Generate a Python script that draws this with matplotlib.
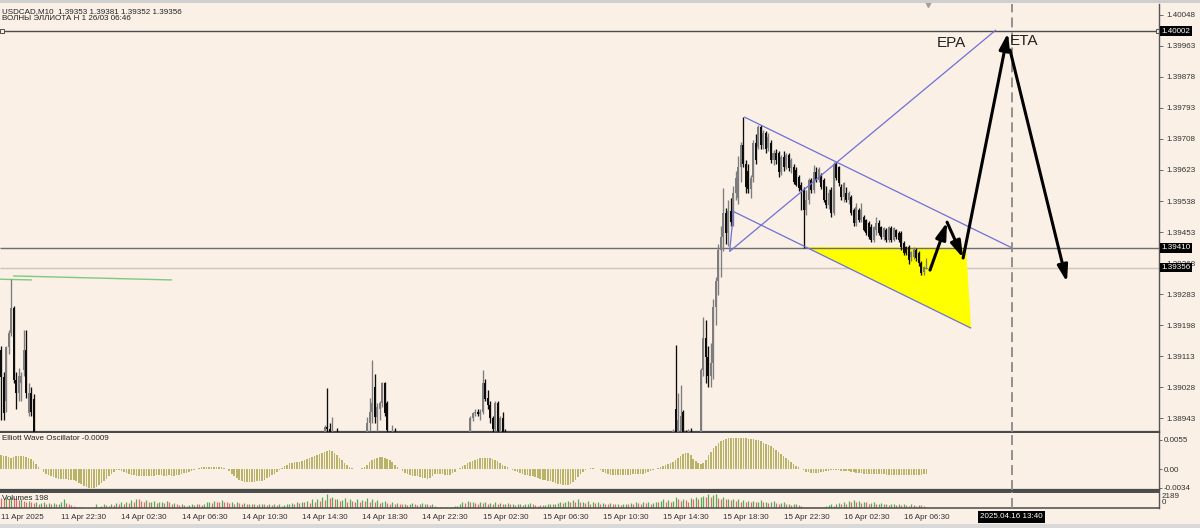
import numpy as np
import matplotlib
matplotlib.use('Agg')
import matplotlib.pyplot as plt
from matplotlib.patches import Rectangle, Polygon
from matplotlib.transforms import blended_transform_factory

plt.rcParams['font.family'] = ['Liberation Sans', 'DejaVu Sans']
plt.rcParams['lines.solid_capstyle'] = 'butt'

BG = '#faf0e6'
TXT = '#303030'
FS = 5.8

# ---------------- data ----------------
symbol_line = 'USDCAD,M10  1.39353 1.39381 1.39352 1.39356'
template_line = 'ВОЛНЫ ЭЛЛИОТА H 1 26/03 06:46'

time_labels = ['11 Apr 2025', '11 Apr 22:30', '14 Apr 02:30', '14 Apr 06:30', '14 Apr 10:30',
               '14 Apr 14:30', '14 Apr 18:30', '14 Apr 22:30', '15 Apr 02:30', '15 Apr 06:30',
               '15 Apr 10:30', '15 Apr 14:30', '15 Apr 18:30', '15 Apr 22:30', '16 Apr 02:30',
               '16 Apr 06:30']
time_label_bars = [24 * k for k in range(len(time_labels))]

price_ticks = [1.40048, 1.39963, 1.39878, 1.39793, 1.39708, 1.39623, 1.39538,
               1.39453, 1.39368, 1.39283, 1.39198, 1.39113, 1.39028, 1.38943]
price_lim = (1.38906, 1.40077)
bar_lim = (-0.4, 461.7)

level_high = 1.40002
level_mid = 1.39410
bid = 1.39356
vline_bar = 403
vline_label = '2025.04.16 13:40'

# candles that fall inside the price window: (open, high, low, close), by segment
left_start = 0
left_ohlc = [
    (1.39130, 1.39140, 1.38938, 1.39056), (1.39056, 1.39070, 1.38940, 1.38957),
    (1.38990, 1.39140, 1.38960, 1.39138), (1.39138, 1.39185, 1.39120, 1.39177),
    (1.39177, 1.39324, 1.39170, 1.39245), (1.39245, 1.39250, 1.39040, 1.39048),
    (1.39048, 1.39070, 1.38970, 1.39012), (1.39012, 1.39080, 1.38990, 1.39060),
    (1.39040, 1.39070, 1.38990, 1.39060), (1.39075, 1.39185, 1.39060, 1.39130),
    (1.39130, 1.39185, 1.39000, 1.39012), (1.38957, 1.39040, 1.38950, 1.39012),
    (1.39012, 1.39030, 1.38950, 1.38960), (1.38995, 1.39010, 1.38880, 1.38890),
]
spike1_start = 129
spike1_ohlc = [
    (1.38900, 1.38925, 1.38890, 1.38920), (1.38920, 1.39026, 1.38890, 1.38915),
    (1.38915, 1.38930, 1.38890, 1.38900), (1.38900, 1.38946, 1.38890, 1.38905),
    (1.38900, 1.38905, 1.38880, 1.38890), (1.38895, 1.38916, 1.38885, 1.38890),
]
spike2_start = 146
spike2_ohlc = [
    (1.38905, 1.38946, 1.38890, 1.38930), (1.38930, 1.38999, 1.38910, 1.38960),
    (1.38960, 1.39103, 1.38930, 1.38985), (1.39030, 1.39066, 1.38930, 1.38948),
    (1.38948, 1.38985, 1.38910, 1.38975), (1.38970, 1.38990, 1.38940, 1.38984),
    (1.38984, 1.39043, 1.38975, 1.39039), (1.39039, 1.39043, 1.38950, 1.38957),
    (1.38984, 1.38990, 1.38890, 1.38911), (1.38905, 1.38908, 1.38880, 1.38890),
    (1.38895, 1.38925, 1.38885, 1.38900), (1.38895, 1.38918, 1.38885, 1.38890),
]
spike3_start = 187
spike3_ohlc = [
    (1.38905, 1.38950, 1.38895, 1.38945), (1.38945, 1.38962, 1.38935, 1.38958),
    (1.38958, 1.38970, 1.38950, 1.38962), (1.38962, 1.38968, 1.38950, 1.38955),
    (1.38955, 1.38968, 1.38940, 1.38962), (1.38962, 1.39076, 1.38955, 1.39040),
    (1.39040, 1.39050, 1.38990, 1.38995), (1.39000, 1.39020, 1.38970, 1.38980),
    (1.38980, 1.38990, 1.38930, 1.38945), (1.38945, 1.38950, 1.38900, 1.38915),
    (1.38915, 1.38990, 1.38910, 1.38985), (1.38985, 1.38990, 1.38905, 1.38910),
    (1.38910, 1.38950, 1.38900, 1.38945), (1.38945, 1.38960, 1.38900, 1.38905),
    (1.38900, 1.38915, 1.38885, 1.38895),
]
rally_start = 268
rally_ohlc = [
    (1.38900, 1.38915, 1.38890, 1.38910), (1.38968, 1.39144, 1.38890, 1.38905),
    (1.38905, 1.39012, 1.38890, 1.38940), (1.38910, 1.39034, 1.38895, 1.38950),
    (1.38960, 1.38965, 1.38890, 1.38900), (1.38900, 1.38912, 1.38885, 1.38895),
    (1.38895, 1.38915, 1.38885, 1.38905), (1.38900, 1.38918, 1.38885, 1.38895),
    (1.38895, 1.38900, 1.38880, 1.38890), (1.38890, 1.38900, 1.38875, 1.38885),
    (1.38885, 1.38905, 1.38875, 1.38900),
    # 279
    (1.38900, 1.39080, 1.38880, 1.39075), (1.39075, 1.39220, 1.39060, 1.39163),
    (1.39163, 1.39212, 1.39040, 1.39110), (1.39110, 1.39140, 1.39030, 1.39060),
    (1.39060, 1.39150, 1.39030, 1.39095), (1.39095, 1.39270, 1.39050, 1.39248),
    (1.39248, 1.39330, 1.39200, 1.39320), (1.39320, 1.39420, 1.39280, 1.39404),
    (1.39404, 1.39470, 1.39330, 1.39440), (1.39440, 1.39573, 1.39400, 1.39505),
    (1.39505, 1.39520, 1.39420, 1.39450), (1.39450, 1.39540, 1.39415, 1.39510),
    (1.39510, 1.39545, 1.39470, 1.39480), (1.39480, 1.39580, 1.39470, 1.39560),
    (1.39560, 1.39620, 1.39540, 1.39600), (1.39545, 1.39660, 1.39530, 1.39630),
    (1.39630, 1.39700, 1.39590, 1.39690), (1.39690, 1.39768, 1.39630, 1.39640),
    (1.39640, 1.39650, 1.39560, 1.39575), (1.39620, 1.39640, 1.39560, 1.39570),
    # 299
    (1.39570, 1.39610, 1.39545, 1.39600), (1.39603, 1.39705, 1.39590, 1.39697),
    (1.39697, 1.39720, 1.39640, 1.39650), (1.39686, 1.39746, 1.39680, 1.39740),
    (1.39740, 1.39745, 1.39680, 1.39690), (1.39690, 1.39732, 1.39680, 1.39724),
    (1.39724, 1.39730, 1.39670, 1.39680), (1.39683, 1.39724, 1.39675, 1.39713),
    (1.39697, 1.39705, 1.39642, 1.39650), (1.39650, 1.39678, 1.39637, 1.39669),
    (1.39669, 1.39680, 1.39640, 1.39650), (1.39670, 1.39675, 1.39604, 1.39618),
    (1.39618, 1.39665, 1.39610, 1.39658), (1.39658, 1.39675, 1.39620, 1.39630),
    (1.39630, 1.39668, 1.39625, 1.39664), (1.39664, 1.39670, 1.39620, 1.39628),
    (1.39628, 1.39655, 1.39615, 1.39650), (1.39631, 1.39640, 1.39585, 1.39590),
    (1.39623, 1.39630, 1.39578, 1.39582), (1.39604, 1.39610, 1.39565, 1.39573),
    # 319
    (1.39582, 1.39590, 1.39513, 1.39568), (1.39568, 1.39575, 1.39410, 1.39513),
    (1.39513, 1.39568, 1.39500, 1.39541), (1.39541, 1.39600, 1.39530, 1.39595),
    (1.39595, 1.39600, 1.39560, 1.39568), (1.39568, 1.39637, 1.39560, 1.39617),
    (1.39617, 1.39630, 1.39590, 1.39595), (1.39595, 1.39631, 1.39590, 1.39625),
    (1.39609, 1.39615, 1.39570, 1.39576), (1.39595, 1.39600, 1.39535, 1.39541),
    (1.39541, 1.39580, 1.39520, 1.39527), (1.39527, 1.39570, 1.39515, 1.39560),
    (1.39568, 1.39575, 1.39494, 1.39505), (1.39505, 1.39645, 1.39500, 1.39640),
    (1.39640, 1.39645, 1.39595, 1.39600), (1.39631, 1.39635, 1.39580, 1.39587),
    (1.39576, 1.39585, 1.39540, 1.39549), (1.39549, 1.39590, 1.39535, 1.39587),
    (1.39560, 1.39576, 1.39535, 1.39541), (1.39541, 1.39565, 1.39530, 1.39560),
    # 339
    (1.39549, 1.39555, 1.39500, 1.39505), (1.39513, 1.39520, 1.39470, 1.39478),
    (1.39478, 1.39532, 1.39470, 1.39521), (1.39513, 1.39520, 1.39480, 1.39486),
    (1.39486, 1.39532, 1.39480, 1.39513), (1.39494, 1.39500, 1.39455, 1.39459),
    (1.39486, 1.39490, 1.39445, 1.39450), (1.39478, 1.39482, 1.39435, 1.39439),
    (1.39467, 1.39475, 1.39425, 1.39431), (1.39431, 1.39470, 1.39425, 1.39467),
    (1.39459, 1.39494, 1.39445, 1.39478), (1.39478, 1.39485, 1.39445, 1.39450),
    (1.39467, 1.39470, 1.39435, 1.39439), (1.39439, 1.39468, 1.39430, 1.39464),
    (1.39459, 1.39465, 1.39425, 1.39431), (1.39431, 1.39470, 1.39425, 1.39467),
    (1.39464, 1.39470, 1.39425, 1.39431), (1.39431, 1.39468, 1.39428, 1.39464),
    (1.39459, 1.39462, 1.39435, 1.39439), (1.39450, 1.39455, 1.39425, 1.39431),
    # 359
    (1.39450, 1.39455, 1.39405, 1.39412), (1.39423, 1.39428, 1.39390, 1.39396),
    (1.39412, 1.39415, 1.39390, 1.39396), (1.39412, 1.39418, 1.39365, 1.39376),
    (1.39385, 1.39400, 1.39375, 1.39398), (1.39385, 1.39412, 1.39380, 1.39409),
    (1.39404, 1.39410, 1.39375, 1.39382), (1.39396, 1.39400, 1.39360, 1.39368),
    (1.39368, 1.39375, 1.39335, 1.39341), (1.39343, 1.39360, 1.39335, 1.39357),
    (1.39353, 1.39381, 1.39352, 1.39356),
]

# Elliott Wave Oscillator, one value per bar, in units of 0.0001
ewo = [
    26, 25, 24, 23, 22, 23, 24, 25, 25, 24,
    23, 21, 19, 15, 10, 5, 0, -5, -9, -11,
    -13, -15, -17, -18, -18, -18, -18, -19, -19, -20,
    -22, -25, -28, -31, -33, -35, -35, -34, -33, -30,
    -26, -22, -18, -13, -9, -5, -2, -2, -3, -5,
    -7, -9, -10, -11, -12, -12, -12, -13, -13, -12,
    -12, -12, -11, -11, -11, -12, -12, -11, -12, -12,
    -11, -10, -9, -7, -6, -4, -3, -1, 1, 3,
    4, 5, 5, 5, 5, 4, 4, 5, 4, 3,
    1, -3, -8, -13, -17, -20, -22, -23, -23, -23,
    -23, -23, -22, -22, -21, -19, -17, -14, -11, -8,
    -4, -1, 2, 6, 9, 11, 12, 13, 13, 14,
    16, 18, 20, 22, 23, 25, 27, 28, 30, 32,
    35, 36, 34, 31, 27, 22, 17, 12, 8, 4,
    2, 1, 1, 1, 2, 5, 9, 13, 17, 20,
    22, 23, 23, 22, 20, 17, 13, 9, 5, 1,
    -3, -6, -9, -11, -12, -12, -13, -14, -16, -17,
    -18, -16, -12, -9, -8, -8, -9, -10, -10, -10,
    -7, -4, 0, 3, 6, 9, 12, 14, 16, 18,
    20, 21, 22, 22, 22, 21, 20, 18, 15, 12,
    9, 6, 4, 1, -1, -3, -5, -7, -9, -10,
    -11, -12, -13, -15, -16, -18, -19, -20, -21, -22,
    -24, -25, -27, -28, -29, -30, -30, -28, -24, -19,
    -14, -9, -5, -1, 1, 2, 2, 1, 0, -2,
    -5, -7, -9, -10, -10, -10, -11, -11, -10, -10,
    -10, -10, -9, -9, -9, -8, -8, -7, -5, -3,
    -2, 0, 2, 4, 6, 8, 10, 12, 14, 17,
    21, 25, 29, 31, 30, 26, 20, 15, 12, 10,
    12, 18, 26, 33, 39, 44, 49, 53, 55, 57,
    58, 59, 59, 59, 58, 59, 59, 58, 57, 56,
    56, 55, 54, 52, 50, 48, 46, 43, 40, 37,
    33, 29, 25, 21, 17, 13, 10, 7, 4, 1,
    -2, -4, -5, -6, -7, -7, -6, -5, -4, -3,
    -3, -2, -2, -2, -2, -3, -3, -3, -3, -4,
    -5, -6, -7, -7, -8, -8, -8, -9, -9, -9,
    -9, -9, -9, -10, -10, -10, -10, -10, -10, -10,
    -10, -10, -10, -10, -10, -10, -10, -10, -9, -9,
]
ewo_ticks = [0.0055, 0.0, -0.0034]
ewo_tick_labels = ['0.0055', '0.00', '-0.0034']
ewo_lim = (-0.00385, 0.00678)

# tick volume, one value per bar
volumes = [
    1400, 1300, 1500, 1200, 1600, 1400, 1300, 1100, 1200, 1000,
    900, 1000, 800, 700, 900, 600, 700, 800, 600, 700,
    600, 700, 500, 600, 800, 1200, 700, 500, 400, 300,
    200, 120, 80, 60, 50, 50, 40, 60, 500, 200,
    300, 600, 400, 300, 500, 400, 700, 500, 800, 600,
    900, 700, 1100, 800, 1300, 1200, 1000, 900, 1100, 800,
    900, 1000, 700, 800, 900, 700, 1000, 800, 600, 700,
    500, 400, 500, 400, 300, 400, 500, 400, 600, 500,
    400, 600, 800, 900, 700, 1000, 900, 800, 1100, 900,
    800, 700, 900, 600, 800, 700, 600, 700, 500, 600,
    500, 600, 400, 500, 600, 500, 400, 500, 400, 500,
    400, 500, 300, 400, 500, 600, 700, 600, 800, 700,
    900, 800, 1000, 700, 1200, 900, 1300, 1000, 1500, 1100,
    1900, 1400, 1600, 1200, 1300, 1000, 1100, 1400, 900, 1200,
    1000, 800, 1300, 900, 1100, 1000, 1400, 900, 1200, 800,
    1100, 700, 900, 1000, 700, 600, 800, 500, 700, 600,
    500, 600, 400, 500, 700, 600, 400, 500, 700, 500,
    600, 400, 500, 300, 200, 100, 100, 120, 150, 150,
    200, 250, 300, 600, 900, 700, 1000, 800, 900, 700,
    600, 800, 700, 900, 600, 700, 500, 800, 600, 700,
    500, 600, 700, 500, 600, 400, 500, 600, 400, 500,
    600, 700, 500, 400, 300, 400, 350, 400, 500, 600,
    500, 600, 700, 800, 700, 900, 1000, 800, 1100, 900,
    1200, 800, 900, 700, 1000, 600, 800, 700, 900, 600,
    700, 600, 500, 700, 600, 500, 600, 400, 500, 600,
    500, 700, 600, 800, 700, 600, 900, 700, 800, 600,
    700, 900, 800, 1000, 1300, 900, 1100, 800, 1000, 1600,
    1200, 1000, 1300, 1100, 900, 1400, 1200, 1500, 1300, 1600,
    1700, 1500, 1900, 1600, 1800, 2000, 1400, 1300, 1500, 1200,
    1300, 1100, 1200, 1000, 1300, 900, 1100, 800, 1000, 900,
    1000, 800, 900, 1100, 800, 900, 700, 800, 1000, 700,
    600, 700, 800, 500, 600, 400, 500, 600, 400, 300,
    200, 150, 100, 150, 100, 200, 150, 100, 200, 300,
    400, 500, 300, 600, 700, 500, 800, 600, 1000, 900,
    1100, 800, 1000, 700, 900, 800, 600, 700, 800, 500,
    600, 700, 500, 600, 400, 500, 600, 400, 500, 400,
    500, 400, 300, 500, 400, 300, 400, 350, 300, 198,
]
volume_max = 2189

# hand-drawn objects (bar index, price)
green_lines = [((-0.4, 1.39324), (12.3, 1.39322)), ((4.8, 1.39333), (68.2, 1.39322))]
channel_upper = ((296.3, 1.39768), (403.0, 1.39410))
channel_lower = ((292.1, 1.39509), (386.8, 1.39190))
channel_link = ((292.1, 1.39509), (290.5, 1.39400))
rising_line = ((290.5, 1.39400), (396.7, 1.40006))
yellow_zone = [(321.0, 1.39412), (384.8, 1.39410), (386.8, 1.39190)]
arrows = [((370.4, 1.39349), (377.2, 1.39480)),
          ((377.2, 1.39480), (383.6, 1.39382)),
          ((383.6, 1.39382), (401.5, 1.39998)),
          ((402.3, 1.39951), (425.0, 1.39316))]
labels = [('EPA', 373.2, 1.39971), ('ETA', 402.3, 1.39975)]


def px(x, y):
    return x / 1200, 1 - y / 528


def draw_candles(ax, start, rows):
    rows = np.array(rows)
    x = start + np.arange(len(rows))
    o, h, l, c = rows.T
    up = c >= o
    cols = np.where(up, '#7d7d7d', '#0c0c0c')
    ax.vlines(x, l, h, colors=cols, lw=0.95, zorder=3)
    body = np.maximum(np.abs(c - o), 0.000015)
    ax.bar(x, body, bottom=np.minimum(o, c), width=0.8, color=cols, zorder=3)


fig = plt.figure(figsize=(12, 5.28), dpi=100, facecolor=BG)
W = 1159 / 1200
ax = fig.add_axes([0, 1 - 432 / 528, W, 428 / 528], facecolor=BG)
ax_osc = fig.add_axes([0, 1 - 490 / 528, W, 57 / 528], facecolor=BG)
ax_vol = fig.add_axes([0, 1 - 508 / 528, W, 16 / 528], facecolor=BG)

for a in (ax, ax_osc, ax_vol):
    a.set_xlim(*bar_lim)
    a.spines['left'].set_visible(False)
    a.spines['top'].set_visible(False)
    a.spines['right'].set_color('#555555')
    a.spines['right'].set_linewidth(1.0)
    a.spines['bottom'].set_color('#4a4a4a')
    a.spines['bottom'].set_linewidth(1.6)
    a.set_xticks([])
    a.axvline(vline_bar, color='#8a8a8a', lw=1.3, dashes=(5.5, 2.8), zorder=6)
ax_vol.spines['top'].set_visible(True)
ax_vol.spines['top'].set_color('#4a4a4a')
ax_vol.spines['top'].set_linewidth(1.4)
ax_vol.spines['bottom'].set_linewidth(1.1)

# ---------------- main price window ----------------
ax.set_ylim(*price_lim)
ax.yaxis.tick_right()
ax.set_yticks(price_ticks)
ax.set_yticklabels([f'{p:.5f}' for p in price_ticks])
ax.tick_params(axis='y', length=3, width=0.6, color='#555555', pad=2,
               labelsize=FS, labelcolor=TXT)

ax.axhline(level_high, color='#4d4d4d', lw=1.0, zorder=2)
ax.plot([bar_lim[0] + 0.6, bar_lim[1] - 0.5], [level_high, level_high], 's', ms=2.5,
        mfc=BG, mec='#4d4d4d', mew=0.7, zorder=2, clip_on=False)
ax.axhline(level_mid, color='#6e6e6e', lw=1.0, zorder=2)
ax.axhline(bid, color='#cdc5bd', lw=1.0, zorder=1)

for (x0, y0), (x1, y1) in green_lines:
    ax.plot([x0, x1], [y0, y1], color='#7fc97f', lw=1.0, zorder=2)

draw_candles(ax, left_start, left_ohlc)
draw_candles(ax, spike1_start, spike1_ohlc)
draw_candles(ax, spike2_start, spike2_ohlc)
draw_candles(ax, spike3_start, spike3_ohlc)
draw_candles(ax, rally_start, rally_ohlc)

ax.add_patch(Polygon(yellow_zone, closed=True, facecolor='#ffff00', edgecolor='none', zorder=1.5))
for seg in (channel_upper, channel_lower, channel_link, rising_line):
    (x0, y0), (x1, y1) = seg
    ax.plot([x0, x1], [y0, y1], color='#6f6fd6', lw=0.9, zorder=4)

for start, end in arrows:
    ax.annotate('', xy=end, xytext=start, zorder=7,
                arrowprops=dict(arrowstyle='-|>,head_length=0.9,head_width=0.28',
                                lw=2.2, color='black', shrinkA=0, shrinkB=0,
                                mutation_scale=11))
for txt, bx, by in labels:
    ax.text(bx, by, txt, fontsize=11, color='#222222', ha='left', va='center', zorder=7)

right = blended_transform_factory(ax.transAxes, ax.transData)
for val in (level_high, level_mid, bid):
    ax.text(1.0019, val, f'{val:.5f}', transform=right, fontsize=FS, color='white',
            ha='left', va='center', zorder=10, clip_on=False,
            bbox=dict(boxstyle='square,pad=0.18', fc='black', ec='none'))

# chart-shift marker
ax.plot([369.5], [price_lim[1]], marker='v', ms=4, color='#a0a0a0', clip_on=False, zorder=8)

# ---------------- oscillator window ----------------
ewo_vals = np.array(ewo) * 1e-4
ax_osc.bar(np.arange(len(ewo_vals)), ewo_vals, width=0.62, color='#b9b36a', zorder=2)
ax_osc.set_ylim(*ewo_lim)
ax_osc.yaxis.tick_right()
ax_osc.set_yticks(ewo_ticks)
ax_osc.set_yticklabels(ewo_tick_labels)
ax_osc.tick_params(axis='y', length=2, width=0.6, color='#555555', pad=1.5,
                   labelsize=FS, labelcolor=TXT)

# ---------------- volume window ----------------
vol = np.array(volumes)
prev = np.concatenate([[vol[0]], vol[:-1]])
vcols = np.where(vol > prev, '#4fae4f', '#e06a6a')
ax_vol.vlines(np.arange(len(vol)), 0, vol, colors=vcols, lw=0.9, zorder=2)
ax_vol.set_ylim(0, volume_max * 1.02)
ax_vol.set_yticks([])
ax_vol.set_xticks(time_label_bars)
ax_vol.set_xticklabels(time_labels, ha='left')
ax_vol.tick_params(axis='x', length=0, pad=4.5, labelsize=FS, labelcolor=TXT)

# ---------------- text around the panels ----------------
fig.text(*px(2, 12), symbol_line, fontsize=FS, color='#222222', va='center')
fig.text(*px(2, 18.5), template_line, fontsize=FS, color='#222222', va='center')
fig.text(*px(2, 439), f'Elliott Wave Oscillator {ewo[-1] * 1e-4:.4f}', fontsize=FS,
         color='#222222', va='center')
fig.text(*px(2, 498), f'Volumes {volumes[-1]}', fontsize=FS, color='#222222', va='center')
fig.text(*px(1162, 496.5), str(volume_max), fontsize=FS, color=TXT, va='center')
fig.text(*px(1162, 503), '0', fontsize=FS, color=TXT, va='center')

vx = ax_vol.transData.transform((vline_bar, 0))[0] / fig.bbox.width
fig.text(vx, 1 - 517 / 528, vline_label, fontsize=FS, color='white', ha='center', va='center',
         bbox=dict(boxstyle='square,pad=0.25', fc='black', ec='none'))

# window chrome
fig.add_artist(Rectangle((0, 1 - 3 / 528), 1, 3 / 528, transform=fig.transFigure,
                         color='#cfcfcf', lw=0))
fig.add_artist(Rectangle((0, 0), 1, 4 / 528, transform=fig.transFigure,
                         color='#d9d9d9', lw=0))

fig.savefig('out.png', dpi=100, facecolor=BG)
